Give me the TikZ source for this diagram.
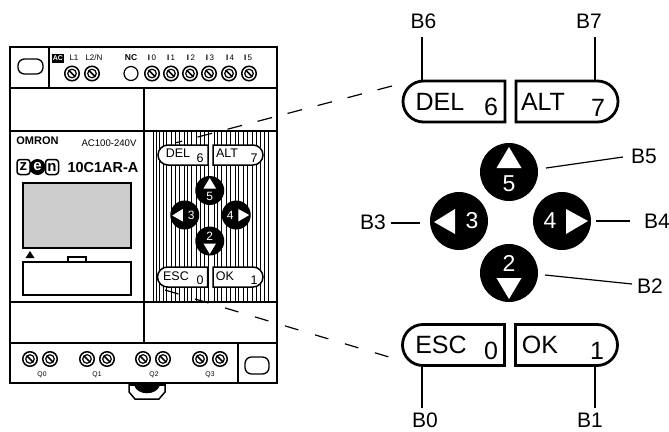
\documentclass[tikz,border=0pt]{standalone}
\usepackage{fontspec}
\setmainfont{Liberation Sans}
\usetikzlibrary{shapes.misc}
\newcommand\fs[1]{\fontsize{#1}{#1}\selectfont}
\tikzset{
  every node/.style={inner sep=0pt,outer sep=0pt},
  frameline/.style={line width=2pt,black},
  hatchline/.style={line width=0.7pt,black},
  screwbody/.style={circle,draw,line width=1.5pt,minimum size=14.5pt,fill=white},
  holebody/.style={circle,draw,line width=1.2pt,minimum size=14pt,fill=white},
  slothole/.style={rounded corners=6.5pt,draw,line width=1.3pt,fill=white},
  keyL/.style={rounded rectangle,rounded rectangle right arc=none,draw,fill=white},
  keyR/.style={rounded rectangle,rounded rectangle left arc=none,draw,fill=white},
  bigkey/.style={line width=2.8pt,minimum width=102pt,minimum height=41pt},
  smallkey/.style={line width=1.5pt,minimum width=50pt,minimum height=20pt},
  leader/.style={line width=1.2pt,black},
  zoomdashA/.style={line width=1.2pt,black,dash pattern=on 15pt off 16pt},
  zoomdashB/.style={line width=1.2pt,black,dash pattern=on 14pt off 17.3pt},
  calllabel/.style={font=\fs{21}},
  termlabel/.style={font=\fs{8}},
  padkey/.style={circle,fill=black},
}
\newcommand\screw[3]{%
  \node[screwbody] (#1) at (#2,#3) {};
  \draw[line width=1.2pt] (#2,#3) circle (4.3);
  \draw[line width=1.5pt] (#2-3.2,#3-3.2) -- (#2+3.2,#3+3.2);
}
% prefix, cx, cy, scale, circle diameter, digit size
\newcommand\keypad[6]{%
  \begin{scope}[shift={(#2,#3)},scale=#4]
    \node[padkey,minimum size=#5pt] (#1five) at (-1.5,-50) {};
    \node[padkey,minimum size=#5pt] (#1three) at (-51.5,-1) {};
    \node[padkey,minimum size=#5pt] (#1four) at (51.5,-1) {};
    \node[padkey,minimum size=#5pt] (#1two) at (-1.5,51) {};
    \fill[white] (-1.5,-75) -- (11,-54) -- (-14,-54) -- cycle;
    \fill[white] (-1.5,77) -- (11,56) -- (-14,56) -- cycle;
    \fill[white] (-76.5,0) -- (-55.5,-13) -- (-55.5,12) -- cycle;
    \fill[white] (77.5,-1) -- (55.5,-13) -- (55.5,12) -- cycle;
    \node[text=white,font=\fs{#6}] (#1dfive) at (-1.5,-38) {5};
    \node[text=white,font=\fs{#6}] (#1dtwo) at (-1.5,41) {2};
    \node[text=white,font=\fs{#6}] (#1dthree) at (-38.5,-1) {3};
    \node[text=white,font=\fs{#6}] (#1dfour) at (39.5,-1) {4};
  \end{scope}
}
\begin{document}
\begin{tikzpicture}[x=1pt,y=-1pt]
\useasboundingbox (0,0) rectangle (669,431);
% hatching
\foreach \x in {153,156,159,163,166,171,175,179,184,187,191,196,200,204,208,214,217,221,226,230,235,238,243,247,252,256,260,264,268}
  \draw[hatchline] (\x,131) -- (\x,302);
% frame
\node[minimum width=267pt,minimum height=336pt,draw,frameline,anchor=north west] (body) at (10,47) {};
\draw[frameline] (10,88) -- (277,88);
\draw[frameline] (10,131) -- (277,131);
\draw[frameline] (10,302) -- (277,302);
\draw[frameline] (10,343) -- (277,343);
\draw[frameline] (144,88) -- (144,343);
\draw[frameline] (49,47) -- (49,88);
\draw[frameline] (238,343) -- (238,383);
% foot
\draw[line width=1.5pt] (129,384) -- (129,392) -- (135,399) -- (159,399) -- (165,392) -- (165,384);
\fill (129,383) rectangle (165,386);
\fill (134,385) -- (160,385) .. controls (157,396) and (137,396) .. (134,385) -- cycle;
% mounting slots
\node[slothole,minimum width=25pt,minimum height=15pt] (slotA) at (30.5,66.5) {};
\node[slothole,minimum width=24pt,minimum height=17pt] (slotB) at (257,365.5) {};
% top terminals
\node[fill=black,text=white,font=\bfseries\fs{7},minimum width=12pt,minimum height=9pt] (tAC) at (58,58) {AC};
\node[termlabel] (tL1) at (74,58) {L1};
\node[termlabel] (tL2) at (94,58) {L2/N};
\node[font=\bfseries\fs{8.5}] (tNC) at (131,58) {NC};
\screw{sL1}{72}{73.5}
\screw{sL2}{92}{73.5}
\node[holebody] (sNC) at (131,73.5) {};
\foreach \n/\x/\l in {0/152/152,1/171/171,2/190/191,3/209/210,4/229/230,5/249/248}
  \node[termlabel] (tI\n) at (\l,58) {{\bfseries I}\,\n};
\screw{sI0}{152}{73.5}
\screw{sI1}{171}{73.5}
\screw{sI2}{190}{73.5}
\screw{sI3}{209}{73.5}
\screw{sI4}{229}{73.5}
\screw{sI5}{249}{73.5}
% bottom terminals
\screw{sQa}{30}{359}
\screw{sQb}{50}{359}
\screw{sQc}{87}{359}
\screw{sQd}{107}{359}
\screw{sQe}{143}{359}
\screw{sQf}{163}{359}
\screw{sQg}{200}{359}
\screw{sQh}{220}{359}
\node[font=\fs{6.8}] (tQ0) at (42,375) {Q0};
\node[font=\fs{6.8}] (tQ1) at (97,375) {Q1};
\node[font=\fs{6.8}] (tQ2) at (154,375) {Q2};
\node[font=\fs{6.8}] (tQ3) at (210,375) {Q3};
% branding
\node[font=\bfseries\fs{11}] (omron) at (37.5,141) {OMRON};
\node[font=\fs{9.6}] (volt) at (109,143) {AC100-240V};
\node[draw,line width=1.5pt,rounded corners=3pt,minimum width=13pt,minimum height=15pt,font=\bfseries\fs{15}] (zenz) at (23.5,167) {z};
\node[fill=black,text=white,circle,minimum size=16pt,font=\bfseries\fs{15}] (zene) at (37.5,167) {e};
\node[draw,line width=1.5pt,rounded corners=3pt,minimum width=13pt,minimum height=15pt,font=\bfseries\fs{15}] (zenn) at (52,167) {n};
\node[font=\bfseries\fs{14.5}] (model) at (103,168) {10C1AR-A};
% display and lower panel
\node[draw,line width=1.5pt,fill=black!20,anchor=north west,minimum width=108pt,minimum height=65pt] (lcd) at (23,183) {};
\fill (30,251) -- (34.5,258) -- (25.5,258) -- cycle;
\node[draw,line width=1.5pt,anchor=north west,minimum width=18pt,minimum height=5pt,fill=white] (tab) at (68,257) {};
\node[draw,line width=1.5pt,anchor=north west,minimum width=108pt,minimum height=33pt,fill=white] (lower) at (23,262) {};
% small keys
\node[keyL,smallkey] (sDEL) at (183,155) {};
\node[keyR,smallkey] (sALT) at (238,155) {};
\node[keyL,smallkey] (sESC) at (182.5,277) {};
\node[keyR,smallkey] (sOK) at (238,277) {};
\node[font=\fs{12.5}] (lDEL) at (178,153.5) {DEL};
\node[font=\fs{12.5}] (nDEL) at (200,158) {6};
\node[font=\fs{12.5}] (lALT) at (227,153.5) {ALT};
\node[font=\fs{12.5}] (nALT) at (254,158) {7};
\node[font=\fs{12.5}] (lESC) at (176,276) {ESC};
\node[font=\fs{12.5}] (nESC) at (200,280) {0};
\node[font=\fs{12.5}] (lOK) at (225,276) {OK};
\node[font=\fs{12.5}] (nOK) at (254,280) {1};
\keypad{s}{210.5}{215.5}{0.5}{29}{12}
% big keys
\node[keyL,bigkey] (bDEL) at (454,101.5) {};
\node[keyR,bigkey] (bALT) at (567,101.5) {};
\node[keyL,bigkey] (bESC) at (453.5,345) {};
\node[keyR,bigkey] (bOK) at (566.5,345) {};
\node[font=\fs{25}] (LDEL) at (440,102) {DEL};
\node[font=\fs{25}] (NDEL) at (491,107) {6};
\node[font=\fs{25}] (LALT) at (543,102) {ALT};
\node[font=\fs{25}] (NALT) at (598,108) {7};
\node[font=\fs{25}] (LESC) at (441,345) {ESC};
\node[font=\fs{25}] (NESC) at (491,351) {0};
\node[font=\fs{25}] (LOK) at (540,345) {OK};
\node[font=\fs{25}] (NOK) at (597,351) {1};
\keypad{b}{510.5}{222}{1}{58}{23}
% zoom guide lines
\coordinate (dTa) at (175,143);
\coordinate (dTb) at (392,86);
\coordinate (dBa) at (165,290);
\coordinate (dBb) at (389,357);
\draw[zoomdashA] (dTb) -- (dTa);
\draw[zoomdashB] (dBa) -- (dBb);
% callouts
\node[calllabel] (B6) at (423.5,21) {B6};
\node[calllabel] (B7) at (589,21) {B7};
\node[calllabel] (B5) at (644,156) {B5};
\node[calllabel] (B4) at (657,221) {B4};
\node[calllabel] (B3) at (373,222) {B3};
\node[calllabel] (B2) at (650,286) {B2};
\node[calllabel] (B0) at (425,420) {B0};
\node[calllabel] (B1) at (590,420) {B1};
\coordinate (c6) at (422,37);
\coordinate (c7) at (595,37);
\coordinate (c0) at (422,408);
\coordinate (c1) at (595,408);
\coordinate (c5a) at (546,168);
\coordinate (c5b) at (623,157);
\coordinate (c4a) at (596,221);
\coordinate (c4b) at (630,221);
\coordinate (c3a) at (391,223);
\coordinate (c3b) at (420,223);
\coordinate (c2a) at (545,275);
\coordinate (c2b) at (632,284);
\draw[leader] (c6) -- (c6 |- bDEL.north);
\draw[leader] (c7) -- (c7 |- bALT.north);
\draw[leader] (c0) -- (c0 |- bESC.south);
\draw[leader] (c1) -- (c1 |- bOK.south);
\draw[leader] (c5a) -- (c5b);
\draw[leader] (c4a) -- (c4b);
\draw[leader] (c3a) -- (c3b);
\draw[leader] (c2a) -- (c2b);
\end{tikzpicture}
\end{document}
